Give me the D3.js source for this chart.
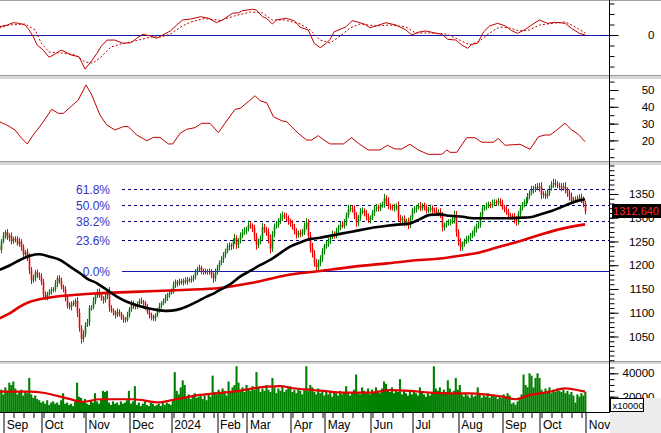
<!DOCTYPE html>
<html>
<head>
<meta charset="utf-8">
<script src="https://d3js.org/d3.v7.min.js"></script>
<style>
body { margin: 0; background: #fff; }
svg { display: block; font-family: "Liberation Sans", Arial, sans-serif; }
</style>
</head>
<body>
<div id="chart"></div>
<script>
// daily closes, Aug 2023 -> 1 Nov 2024 (one per trading day)
var closes = [
  1232,1250,1262,1270,1258,1262,1250,1256,1255,1245,1250,1238,1222,1228,1215,1190,1168,1172,1185,1180,
  1175,1165,1138,1132,1140,1145,1148,1150,1162,1173,1166,1155,1150,1132,1115,1112,1120,1118,1125,1100,
  1068,1045,1055,1075,1080,1110,1112,1125,1135,1144,1138,1130,1126,1135,1145,1110,1105,1100,1095,1102,
  1098,1090,1086,1085,1095,1108,1120,1115,1112,1118,1125,1123,1120,1112,1102,1095,1090,1088,1095,1105,
  1115,1120,1125,1132,1138,1142,1145,1158,1165,1162,1166,1163,1168,1165,1170,1168,1172,1175,1185,1192,
  1195,1188,1186,1185,1188,1186,1180,1172,1185,1195,1205,1212,1222,1230,1238,1242,1240,1250,1257,1243,
  1252,1262,1270,1272,1276,1285,1283,1278,1260,1243,1250,1258,1280,1275,1270,1255,1235,1265,1282,1285,
  1292,1300,1305,1303,1300,1292,1287,1280,1272,1264,1268,1266,1270,1282,1290,1262,1237,1225,1205,1196,
  1205,1213,1230,1240,1245,1252,1260,1265,1262,1272,1280,1285,1283,1290,1305,1318,1320,1318,1305,1290,
  1300,1312,1315,1310,1302,1295,1300,1310,1318,1322,1320,1326,1327,1341,1335,1325,1322,1320,1322,1325,
  1300,1295,1298,1290,1292,1285,1300,1315,1318,1322,1325,1320,1325,1322,1315,1318,1320,1316,1315,1310,
  1312,1305,1280,1285,1288,1290,1292,1295,1306,1270,1250,1238,1245,1250,1255,1258,1262,1268,1275,1282,
  1285,1305,1320,1322,1325,1328,1327,1330,1333,1332,1335,1330,1322,1318,1312,1305,1303,1302,1296,1292,
  1308,1320,1328,1333,1335,1345,1352,1358,1360,1365,1363,1366,1348,1350,1345,1352,1362,1370,1373,1370,
  1368,1365,1362,1366,1358,1352,1345,1335,1338,1340,1338,1343,1338,1330,1312.64
];
var firstOpen = 1240;
// points of wick above / below the body
var hiWick = [
  6,5,8,4,6,5,7,4,5,6,8,5,6,4,7,10,6,8,5,6, 5,8,6,7,4,5,6,4,7,5,6,8,4,6,5,7,4,6,5,8,
  9,6,8,5,7,6,4,8,5,6,7,4,5,6,5,9,6,4,5,7, 5,4,6,5,7,4,6,5,4,6,5,7,4,5,6,4,5,6,4,5,
  6,4,5,7,4,5,6,8,5,4,6,5,4,7,5,4,6,5,7,5, 6,4,5,7,4,5,6,5,8,6,5,7,6,5,8,6,5,7,9,6,
  5,7,6,8,5,9,6,5,7,8,6,5,9,7,6,8,10,7,6,8, 7,9,8,6,7,5,6,8,7,6,5,7,6,8,9,7,8,10,7,8,
  7,8,6,5,7,6,5,8,6,7,5,6,8,7,6,9,7,6,8,7, 6,8,7,5,6,7,5,6,8,7,6,5,7,9,6,8,5,6,7,5,
  9,6,5,7,6,8,5,6,7,5,6,8,5,7,6,5,8,6,5,7, 6,8,7,5,6,7,5,6,9,8,6,7,5,6,7,5,6,5,7,6,
  8,7,6,5,7,6,5,8,6,5,7,6,8,5,6,7,5,6,8,7, 6,7,5,6,8,7,6,9,7,6,8,7,9,6,7,8,6,7,9,8,
  7,6,8,7,9,6,7,8,6,5,7,6,8,7,5
];
var loWick = [
  5,7,4,6,5,8,6,5,7,4,6,8,5,7,6,9,8,5,6,7, 6,7,9,5,6,4,7,5,6,8,5,6,7,8,6,5,7,4,6,9,
  8,10,7,6,5,8,6,5,7,4,6,5,7,5,6,8,5,6,7,4, 6,5,7,6,4,5,6,7,5,4,6,5,7,6,5,7,6,5,6,4,
  5,6,4,5,7,6,4,5,6,7,5,4,6,5,6,4,5,7,5,6, 5,7,6,4,5,6,7,9,6,5,6,5,7,6,5,7,8,6,5,9,
  7,6,5,6,7,5,6,8,9,10,7,6,5,7,8,9,10,7,6,5, 6,5,7,6,8,7,6,5,7,8,6,7,5,6,7,9,10,9,8,9,
  8,7,6,7,5,6,7,5,6,5,7,6,5,6,7,5,6,7,8,9, 7,6,5,7,8,6,7,5,6,5,7,6,5,6,8,7,6,5,7,6,
  8,7,6,8,7,9,6,5,6,7,5,6,5,7,6,5,6,7,5,6, 7,6,9,7,6,5,6,5,7,10,9,8,7,6,5,7,6,5,7,6,
  5,6,7,5,6,5,7,6,5,6,7,6,5,7,6,8,7,6,8,9, 7,6,5,6,7,5,6,5,7,6,5,8,9,7,6,5,6,5,7,6,
  6,7,6,5,7,8,9,7,6,7,6,5,7,8,6
];
// volume, thousands of (x10000) units
var volumes = [
  24,26,22,28,25,32,30,33,27,22,24,26,21,25,23,36,22,19,21,18, 17,15,16,14,17,13,15,16,14,15,13,17,23,14,15,13,14,12,16,32,
  20,19,16,18,14,13,17,15,23,16,14,18,25,24,25,15,13,16,14,15, 13,16,14,15,17,25,14,16,29,13,15,12,14,16,13,12,15,14,12,13,
  14,12,16,13,15,14,13,17,41,25,22,28,34,30,20,22,18,21,23,19, 20,22,18,21,17,23,20,38,24,22,26,23,27,25,21,33,24,28,30,46,
  32,26,28,24,30,27,25,29,26,41,28,24,27,25,30,26,24,36,28,23, 27,25,29,24,26,28,29,24,26,23,27,25,22,26,46,25,30,28,24,22,
  27,23,25,21,24,22,25,20,24,23,21,25,22,24,29,23,21,24,26,39, 24,22,28,25,23,27,22,26,24,28,25,23,27,33,31,25,24,28,23,26,
  24,35,22,25,23,21,24,22,25,23,21,28,24,22,20,23,21,24,46,27, 25,28,23,26,24,34,27,23,25,36,26,30,22,20,23,21,19,22,20,21,
  28,22,19,21,20,23,19,21,22,20,18,21,19,22,20,23,21,14,15,13, 16,18,22,39,30,28,40,38,28,36,40,36,26,24,27,25,28,23,26,24,
  27,25,24,26,23,25,22,24,21,15,22,20,23,21,24
];

// month ticks: bar index of first session of each month
var monthIdx = [2, 21, 43, 65, 86, 109, 124, 146, 163, 186, 207, 230, 252, 271, 294];
var monthLabels = ["Sep", "Oct", "Nov", "Dec", "2024", "Feb", "Mar", "Apr", "May", "Jun", "Jul", "Aug", "Sep", "Oct", "Nov"];

// moving averages: [bar index, value]
var ma50 = [[0,1190],[5.4,1200],[10.4,1211],[15.4,1220],[20.4,1223],[25.4,1218],[30.5,1211],[35.5,1197],[40.5,1183],
  [44,1172],[49,1162],[54,1148],[59,1134],[64,1123],[69,1116],[74,1110],[79,1106],[84,1104],[89,1106],[94,1113],
  [99,1123],[104,1134],[108.2,1142],[110.7,1148],[115.8,1160],[120.8,1176],[125.8,1188],[130.8,1200],[135.8,1211],
  [140.8,1225],[145.9,1239],[150.9,1248],[155.9,1255],[160.9,1258],[166,1262],[171,1266],[177.5,1271],[186,1278],
  [194.5,1283],[201,1286],[206,1288],[211,1297],[216,1306],[221,1307],[226,1304],[232.7,1302],[237.7,1299],
  [246,1299],[254.7,1299],[261.3,1300],[266.3,1301],[271.3,1307],[276.3,1313],[281.3,1321],[286.4,1330],
  [289.9,1335],[293.9,1339]];
var ma200 = [[0,1088],[5.4,1099],[10.4,1113],[15.4,1123],[25.4,1132],[42,1139],[67,1144],[92,1148],[110.7,1152],
  [127,1163],[144,1179],[161,1188],[178,1197],[194.5,1204],[211,1211],[221,1214],[231,1220],[241,1227],[251,1239],
  [261.3,1251],[271.3,1264],[281.3,1276],[293.9,1286]];
var volMa = [[0,24.3],[15.4,24.3],[22,23.4],[34,18.6],[42,15.7],[50.5,17.8],[67,17.8],[80.6,15.2],[87,17.2],
  [100.7,21.5],[117.3,24.3],[134.3,28.6],[140.8,29.1],[147.4,27.2],[157.4,25.7],[166,24.3],[176,23.4],[186,23.4],
  [196,25.7],[206,25],[216,23.4],[226,22.9],[236,22.9],[246,21.5],[252.7,20],[258.8,17.8],[266.3,21.5],
  [276.3,24.3],[283.8,27.2],[289.9,25.7],[293.9,24.3]];

// MACD and signal
var macd = [[0,7.9],[4,9.5],[7,11.7],[10,11.1],[13,9.5],[15,4.8],[17,-1.6],[19,-9.5],[22,-14.3],[25,-21.2],[28,-18.1],
  [31,-14.3],[34,-16.9],[36,-19],[40,-20.7],[43,-32.4],[46,-25.4],[49,-17.4],[51,-11.1],[54,-4.8],[58,-4.8],[62,-7.9],
  [66,-7.3],[69,-3.1],[72,0.7],[76,-1],[79,-3.1],[82,0],[86,4.1],[89,9.5],[92,14.3],[96,15.2],[101,17.4],[105,15.9],
  [109,11.7],[112,14.3],[117,20.7],[120,21.2],[122,23.1],[127,24.5],[129,23.8],[132,17.4],[134,15.9],[137,10.5],
  [139,14.3],[144,15.9],[148,13.6],[151,7.3],[155,4.8],[158,-7.9],[161,-12.1],[164,-7.9],[166,-4.1],[168,3.1],
  [171,5.4],[174,7.9],[177,13.6],[179,12.7],[183,10.5],[186,7],[189,8.6],[194,11.7],[199,9.5],[204,4.8],[207,0],
  [210,2.6],[214,3.8],[218,2.2],[222,0.7],[225,-4.1],[229,-4.8],[232,-9.5],[235,-12.7],[237,-8.9],[240,-7.9],
  [243,3.1],[246,8.6],[250,11.1],[254,8.6],[257,4.1],[260,1.6],[264,5.4],[267,9.5],[271,14.3],[275,11.1],
  [279,12.1],[284,11.1],[287,6.4],[291,1.6],[294,0]];
var signal = [[0,6.7],[5,9.5],[13,10.5],[18,4.8],[21,-7.6],[25,-16.2],[31,-17.1],[38,-19],[43,-25.7],[47,-26.7],
  [51,-21],[56,-11.4],[61,-8.6],[68,-5.7],[76,-1.9],[81,-1.9],[86,1],[91,7.6],[96,12.4],[103,15.7],[111,13.8],
  [118,18.1],[126,21.9],[132,21],[137,14.3],[143,14.3],[151,10.5],[156,4.8],[161,-4.8],[166,-7.6],[171,-1],
  [176,6.7],[181,10.5],[189,8.6],[196,9.5],[204,7.6],[209,1.9],[216,1.9],[224,1],[230,-3.8],[236,-9.5],
  [241,-5.7],[246,1.9],[251,7.6],[256,6.7],[261,3.8],[266,4.8],[271,9.5],[279,11.4],[284,12.4],[289,7.6],[294,1.9]];

// ADX
var adx = [[0,31.1],[3.7,29.2],[7.9,26.2],[11.2,21.2],[14,17.9],[17,23.2],[21.3,29.8],[26.3,38.5],[29.6,36.1],
  [32.1,36.1],[36.3,40.5],[39.6,44],[43.5,53],[46.4,47],[50.5,35.1],[53.9,29.2],[58,26.2],[62.2,28.2],[64.7,28.2],
  [69,23.2],[74,19.8],[77.3,21.8],[80.6,21.8],[84.8,17.9],[87,17.9],[90.7,24.2],[94,26.6],[98.2,27.6],[101.6,30.2],
  [105.7,30.2],[109.9,24.6],[113.2,30.2],[118.3,38.5],[120.8,39.1],[124.9,43],[128.3,46.6],[130.8,43.6],
  [134.2,42.4],[137.5,34.1],[141.7,31.7],[144.2,31.1],[150,24.2],[154.2,20.2],[156.7,20.2],[160,22.8],
  [163.4,19.8],[166,17.9],[172.6,17.9],[176.8,21.6],[180.1,18.3],[185.1,14.3],[191,14.3],[194.7,17.1],
  [198.5,14.9],[201.9,14.9],[206,17.7],[210.2,14.3],[215.2,11.7],[222,11.7],[224.5,14.3],[226.1,12.9],
  [229.5,12.9],[234.5,21.6],[238.7,21.6],[242,18.9],[247.9,18.9],[250.4,21.2],[253.7,17.1],[258.8,17.5],
  [261.3,17.7],[266.3,14.7],[270.5,22.2],[273.8,23.2],[276.3,23.2],[279.7,26.2],[283.8,30.2],[287.2,26.2],
  [290.5,23.6],[293.9,19.2]];

// Fibonacci retracement
var fibRatios = [0, 0.236, 0.382, 0.5, 0.618];
var fibLow = 1187.5, fibHigh = 1466.5;
var lastPrice = 1312.64;

var priceTicks = [1050, 1100, 1150, 1200, 1250, 1300, 1350];
var adxTicks = [20, 30, 40, 50];
var volTicks = [20, 40];

var width = 661, height = 433;
var axisX = 609;

var svg = d3.select("#chart").append("svg")
  .attr("width", width)
  .attr("height", height);

var x = d3.scaleLinear().domain([0, 294]).range([-0.7, 585.3]);

var yMacd = d3.scaleLinear().domain([-39, 33.3]).range([76, 0]);
var yAdx = d3.scaleLinear().domain([7.14, 56.55]).range([162, 79]);
var yPrice = d3.scaleLinear().domain([998.4, 1411]).range([361, 165]);
var yVol = d3.scaleLinear().domain([6.92, 47.95]).range([412, 364]);

var panels = [
  { id: "p1", top: 1, bottom: 75 },
  { id: "p2", top: 79, bottom: 161 },
  { id: "p3", top: 165, bottom: 361 },
  { id: "p4", top: 364, bottom: 412 }
];

var defs = svg.append("defs");
panels.forEach(function(p) {
  defs.append("clipPath").attr("id", "clip-" + p.id)
    .append("rect")
    .attr("x", 0).attr("y", p.top)
    .attr("width", axisX).attr("height", p.bottom - p.top);
});

// separators between panes
function separator(y0, y1) {
  svg.append("rect").attr("x", 0).attr("y", y0).attr("width", width).attr("height", y1 - y0).attr("fill", "#d6d6d6");
  svg.append("line").attr("x1", 0).attr("x2", width).attr("y1", y0 + 0.5).attr("y2", y0 + 0.5).attr("stroke", "#9a9a9a");
}
svg.append("line").attr("x1", 0).attr("x2", width).attr("y1", 0.5).attr("y2", 0.5).attr("stroke", "#a0a0a0");
separator(75, 79);
separator(161, 165);
separator(361, 364);

function seriesLine(yScale, curve) {
  return d3.line()
    .x(function(d) { return x(d[0]); })
    .y(function(d) { return yScale(d[1]); })
    .curve(curve || d3.curveLinear);
}

// ---- MACD pane
var g1 = svg.append("g").attr("clip-path", "url(#clip-p1)");
g1.append("line").attr("x1", 0).attr("x2", axisX)
  .attr("y1", Math.round(yMacd(0)) + 0.5).attr("y2", Math.round(yMacd(0)) + 0.5)
  .attr("stroke", "#1a1aa8");
g1.append("path").datum(signal)
  .attr("d", seriesLine(yMacd))
  .attr("fill", "none").attr("stroke", "#c00000").attr("stroke-width", 1)
  .attr("stroke-dasharray", "2,2");
g1.append("path").datum(macd)
  .attr("d", seriesLine(yMacd))
  .attr("fill", "none").attr("stroke", "#c00000").attr("stroke-width", 1);

// ---- ADX pane
var g2 = svg.append("g").attr("clip-path", "url(#clip-p2)");
g2.append("path").datum(adx)
  .attr("d", seriesLine(yAdx))
  .attr("fill", "none").attr("stroke", "#c00000").attr("stroke-width", 1);

// ---- price pane
var g3 = svg.append("g").attr("clip-path", "url(#clip-p3)");

fibRatios.forEach(function(r) {
  var v = fibLow + r * (fibHigh - fibLow);
  var yy = Math.round(yPrice(v)) + 0.5;
  g3.append("line")
    .attr("x1", 122).attr("x2", axisX).attr("y1", yy).attr("y2", yy)
    .attr("stroke", r === 0 ? "#1a1aa8" : "#000080")
    .attr("stroke-dasharray", r === 0 ? null : "3,3");
  g3.append("text")
    .attr("x", 110).attr("y", yy)
    .attr("dy", "0.35em")
    .attr("text-anchor", "end")
    .attr("font-size", 12)
    .attr("fill", "#3434c8")
    .text((r * 100).toFixed(1) + "%");
});

var opens = closes.map(function(c, i) { return i === 0 ? firstOpen : closes[i - 1]; });

var candles = g3.selectAll(".candle")
  .data(closes)
  .enter().append("g")
  .attr("class", "candle");

candles.append("line")
  .attr("x1", function(d, i) { return Math.round(x(i)) + 0.5; })
  .attr("x2", function(d, i) { return Math.round(x(i)) + 0.5; })
  .attr("y1", function(d, i) { return yPrice(Math.max(opens[i], d) + hiWick[i]); })
  .attr("y2", function(d, i) { return yPrice(Math.min(opens[i], d) - loWick[i]); })
  .attr("stroke", function(d, i) { return d >= opens[i] ? "#008000" : "#f00000"; })
  .attr("stroke-width", 1);

candles.append("rect")
  .attr("x", function(d, i) { return Math.round(x(i)) - 0.3; })
  .attr("width", 1.6)
  .attr("y", function(d, i) { return yPrice(Math.max(opens[i], d)); })
  .attr("height", function(d, i) { return Math.max(1, Math.abs(yPrice(opens[i]) - yPrice(d))); })
  .attr("fill", function(d, i) { return d >= opens[i] ? "#008000" : "#f00000"; });

g3.append("path").datum(ma200)
  .attr("d", seriesLine(yPrice, d3.curveMonotoneX))
  .attr("fill", "none").attr("stroke", "#e00000").attr("stroke-width", 2.6);
g3.append("path").datum(ma50)
  .attr("d", seriesLine(yPrice, d3.curveMonotoneX))
  .attr("fill", "none").attr("stroke", "#000").attr("stroke-width", 2.6);

// ---- volume pane
var g4 = svg.append("g").attr("clip-path", "url(#clip-p4)");
g4.selectAll(".vbar")
  .data(volumes)
  .enter().append("rect")
  .attr("class", "vbar")
  .attr("x", function(d, i) { return x(i) - 1; })
  .attr("width", 2.1)
  .attr("y", function(d) { return yVol(d); })
  .attr("height", function(d) { return 412 - yVol(d); })
  .attr("fill", "#008000");
g4.append("path").datum(volMa)
  .attr("d", seriesLine(yVol, d3.curveMonotoneX))
  .attr("fill", "none").attr("stroke", "#e00000").attr("stroke-width", 2.2);

// ---- right axes
function rightAxis(scale, minorVals, majorVals, fmt) {
  var gMinor = svg.append("g").attr("transform", "translate(" + (axisX + 0.5) + ",0)")
    .call(d3.axisRight(scale).tickValues(minorVals).tickSize(5).tickFormat(""));
  gMinor.select(".domain").remove();
  var gMajor = svg.append("g").attr("transform", "translate(" + (axisX + 0.5) + ",0)")
    .call(d3.axisRight(scale).tickValues(majorVals).tickSize(9).tickFormat(fmt));
  gMajor.select(".domain").remove();
  gMajor.selectAll("text")
    .attr("x", 45)
    .attr("text-anchor", "end")
    .attr("font-size", 11.5)
    .attr("font-family", "Liberation Sans, Arial, sans-serif")
    .attr("fill", "#000");
  return gMajor;
}

rightAxis(yMacd, [-30, -20, -10, 10, 20, 30], [0], function(d) { return d; });
svg.append("line").attr("x1", axisX - 8).attr("x2", axisX)
  .attr("y1", Math.round(yMacd(0)) + 0.5).attr("y2", Math.round(yMacd(0)) + 0.5).attr("stroke", "#000080");
rightAxis(yAdx, d3.range(10, 56, 5), adxTicks, function(d) { return d; });
rightAxis(yPrice, d3.range(1000, 1411, 10), priceTicks, function(d) { return d; });
rightAxis(yVol, d3.range(10, 48, 5), volTicks, function(d) { return d * 1000; });

svg.append("line").attr("x1", axisX + 0.5).attr("x2", axisX + 0.5)
  .attr("y1", 0).attr("y2", 412).attr("stroke", "#000");

// last price marker
svg.append("rect").attr("x", 612).attr("y", Math.round(yPrice(lastPrice)) - 8)
  .attr("width", 49).attr("height", 14).attr("fill", "#000");
svg.append("text").attr("x", 659).attr("y", Math.round(yPrice(lastPrice)) - 1)
  .attr("dy", "0.35em").attr("text-anchor", "end")
  .attr("font-size", 11).attr("fill", "#ff2a2a")
  .text(lastPrice.toFixed(3));

// corner below the volume scale
svg.append("rect").attr("x", axisX + 1).attr("y", 398).attr("width", width - axisX - 1).attr("height", height - 398)
  .attr("fill", "#ececec");
svg.append("rect").attr("x", 610.5).attr("y", 398.5).attr("width", 33).attr("height", 13)
  .attr("fill", "#fff").attr("stroke", "#000");
svg.append("text").attr("x", 612.5).attr("y", 408.5)
  .attr("font-size", 9.5).attr("fill", "#000").text("x10000");

// ---- time axis
var weekTicks = d3.range(2, 294, 5).filter(function(v) { return monthIdx.indexOf(v) < 0; });
var gx1 = svg.append("g").attr("transform", "translate(0,412)")
  .call(d3.axisBottom(x).tickValues(weekTicks).tickSize(6).tickFormat(""));
gx1.select(".domain").remove();
gx1.selectAll("line").attr("transform", function(d) { return "translate(" + (Math.round(x(d)) + 0.5 - x(d)) + ",0)"; });

var gx2 = svg.append("g").attr("transform", "translate(0,412)")
  .call(d3.axisBottom(x).tickValues(monthIdx).tickSize(21).tickFormat(function(d, i) { return monthLabels[i]; }));
gx2.select(".domain").remove();
gx2.selectAll("line").attr("transform", function(d) { return "translate(" + (Math.round(x(d)) + 0.5 - x(d)) + ",0)"; });
gx2.selectAll("text")
  .attr("x", 3)
  .attr("y", 13)
  .attr("dy", "0.35em")
  .attr("text-anchor", "start")
  .attr("font-size", 12)
  .attr("font-family", "Liberation Sans, Arial, sans-serif")
  .attr("fill", "#000");

svg.append("line").attr("x1", 0).attr("x2", axisX + 1)
  .attr("y1", 412.5).attr("y2", 412.5).attr("stroke", "#000");
</script>
</body>
</html>
